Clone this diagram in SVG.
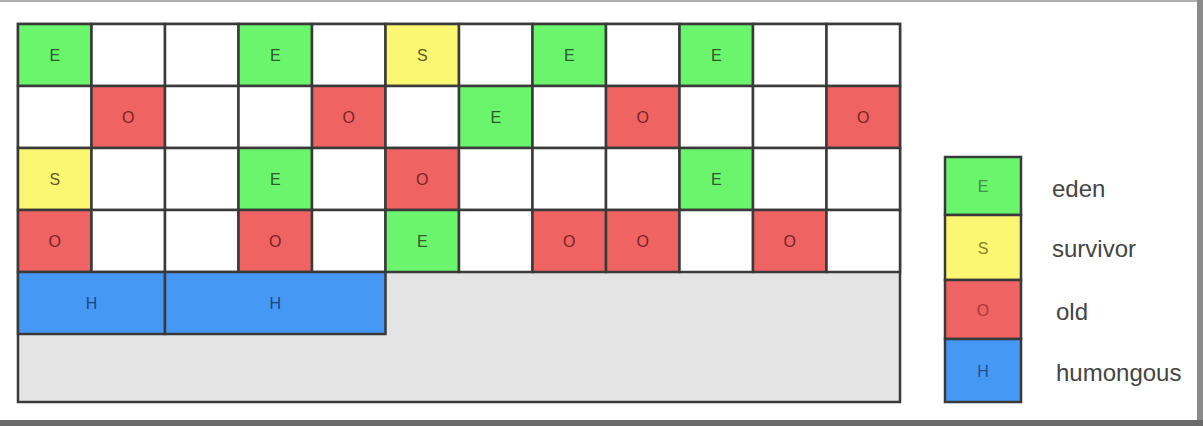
<svg xmlns="http://www.w3.org/2000/svg" width="1203" height="426" viewBox="0 0 1203 426">
<style>
.c{stroke:#3a3a3a;stroke-width:2.5}
.e{fill:#6af56c}.s{fill:#fbf772}.o{fill:#ef6363}.h{fill:#4599f4}.w{fill:#ffffff}.g{fill:#e4e4e4}
text{font-family:"Liberation Sans",Arial,sans-serif;text-anchor:middle}
.t{font-size:16px}
.te{fill:#2e5a2e}.ts{fill:#625a22}.to{fill:#7a2424}.th{fill:#1f4577}
.lt{font-size:16px}
.le{fill:#3f8f44}.ls{fill:#8a7f2a}.lo{fill:#a83838}.lh{fill:#20508f}
.lab{font-size:24px;fill:#444;text-anchor:start}
</style>
<rect x="0" y="0" width="1203" height="426" fill="#ffffff"/>
<rect x="0" y="0" width="1203" height="2" fill="#b0b0b0"/>
<rect x="1197" y="0" width="6" height="426" fill="#8a8a8a"/>
<rect x="0" y="420" width="1203" height="6" fill="#6a6a6a"/>
<g id="heap">
<rect class="c g" x="18" y="24" width="882" height="378"/>
<g id="row0">
<rect class="c e" x="18" y="24" width="73.5" height="62"/><text class="t te" x="54.75" y="61">E</text>
<rect class="c w" x="91.5" y="24" width="73.5" height="62"/>
<rect class="c w" x="165" y="24" width="73.5" height="62"/>
<rect class="c e" x="238.5" y="24" width="73.5" height="62"/><text class="t te" x="275.25" y="61">E</text>
<rect class="c w" x="312" y="24" width="73.5" height="62"/>
<rect class="c s" x="385.5" y="24" width="73.5" height="62"/><text class="t ts" x="422.25" y="61">S</text>
<rect class="c w" x="459" y="24" width="73.5" height="62"/>
<rect class="c e" x="532.5" y="24" width="73.5" height="62"/><text class="t te" x="569.25" y="61">E</text>
<rect class="c w" x="606" y="24" width="73.5" height="62"/>
<rect class="c e" x="679.5" y="24" width="73.5" height="62"/><text class="t te" x="716.25" y="61">E</text>
<rect class="c w" x="753" y="24" width="73.5" height="62"/>
<rect class="c w" x="826.5" y="24" width="73.5" height="62"/>
</g>
<g id="row1">
<rect class="c w" x="18" y="86" width="73.5" height="62"/>
<rect class="c o" x="91.5" y="86" width="73.5" height="62"/><text class="t to" x="128.25" y="123">O</text>
<rect class="c w" x="165" y="86" width="73.5" height="62"/>
<rect class="c w" x="238.5" y="86" width="73.5" height="62"/>
<rect class="c o" x="312" y="86" width="73.5" height="62"/><text class="t to" x="348.75" y="123">O</text>
<rect class="c w" x="385.5" y="86" width="73.5" height="62"/>
<rect class="c e" x="459" y="86" width="73.5" height="62"/><text class="t te" x="495.75" y="123">E</text>
<rect class="c w" x="532.5" y="86" width="73.5" height="62"/>
<rect class="c o" x="606" y="86" width="73.5" height="62"/><text class="t to" x="642.75" y="123">O</text>
<rect class="c w" x="679.5" y="86" width="73.5" height="62"/>
<rect class="c w" x="753" y="86" width="73.5" height="62"/>
<rect class="c o" x="826.5" y="86" width="73.5" height="62"/><text class="t to" x="863.25" y="123">O</text>
</g>
<g id="row2">
<rect class="c s" x="18" y="148" width="73.5" height="62"/><text class="t ts" x="54.75" y="185">S</text>
<rect class="c w" x="91.5" y="148" width="73.5" height="62"/>
<rect class="c w" x="165" y="148" width="73.5" height="62"/>
<rect class="c e" x="238.5" y="148" width="73.5" height="62"/><text class="t te" x="275.25" y="185">E</text>
<rect class="c w" x="312" y="148" width="73.5" height="62"/>
<rect class="c o" x="385.5" y="148" width="73.5" height="62"/><text class="t to" x="422.25" y="185">O</text>
<rect class="c w" x="459" y="148" width="73.5" height="62"/>
<rect class="c w" x="532.5" y="148" width="73.5" height="62"/>
<rect class="c w" x="606" y="148" width="73.5" height="62"/>
<rect class="c e" x="679.5" y="148" width="73.5" height="62"/><text class="t te" x="716.25" y="185">E</text>
<rect class="c w" x="753" y="148" width="73.5" height="62"/>
<rect class="c w" x="826.5" y="148" width="73.5" height="62"/>
</g>
<g id="row3">
<rect class="c o" x="18" y="210" width="73.5" height="62"/><text class="t to" x="54.75" y="247">O</text>
<rect class="c w" x="91.5" y="210" width="73.5" height="62"/>
<rect class="c w" x="165" y="210" width="73.5" height="62"/>
<rect class="c o" x="238.5" y="210" width="73.5" height="62"/><text class="t to" x="275.25" y="247">O</text>
<rect class="c w" x="312" y="210" width="73.5" height="62"/>
<rect class="c e" x="385.5" y="210" width="73.5" height="62"/><text class="t te" x="422.25" y="247">E</text>
<rect class="c w" x="459" y="210" width="73.5" height="62"/>
<rect class="c o" x="532.5" y="210" width="73.5" height="62"/><text class="t to" x="569.25" y="247">O</text>
<rect class="c o" x="606" y="210" width="73.5" height="62"/><text class="t to" x="642.75" y="247">O</text>
<rect class="c w" x="679.5" y="210" width="73.5" height="62"/>
<rect class="c o" x="753" y="210" width="73.5" height="62"/><text class="t to" x="789.75" y="247">O</text>
<rect class="c w" x="826.5" y="210" width="73.5" height="62"/>
</g>
<g id="row4">
<rect class="c h" x="18" y="272" width="147" height="62"/><text class="t th" x="91.5" y="309">H</text>
<rect class="c h" x="165" y="272" width="220.5" height="62"/><text class="t th" x="275.25" y="309">H</text>
</g>
</g>
<g id="legend">
<g id="leg-eden"><rect class="c e" x="945" y="157" width="76" height="58"/><text class="lt le" x="983" y="192">E</text><text class="lab" x="1052" y="197">eden</text></g>
<g id="leg-survivor"><rect class="c s" x="945" y="215" width="76" height="65"/><text class="lt ls" x="983" y="254">S</text><text class="lab" x="1052" y="257">survivor</text></g>
<g id="leg-old"><rect class="c o" x="945" y="280" width="76" height="59"/><text class="lt lo" x="983" y="316">O</text><text class="lab" x="1056" y="320">old</text></g>
<g id="leg-humongous"><rect class="c h" x="945" y="339" width="76" height="63"/><text class="lt lh" x="983" y="377">H</text><text class="lab" x="1056" y="381">humongous</text></g>
</g>
<g id="connectors"></g>
</svg>
